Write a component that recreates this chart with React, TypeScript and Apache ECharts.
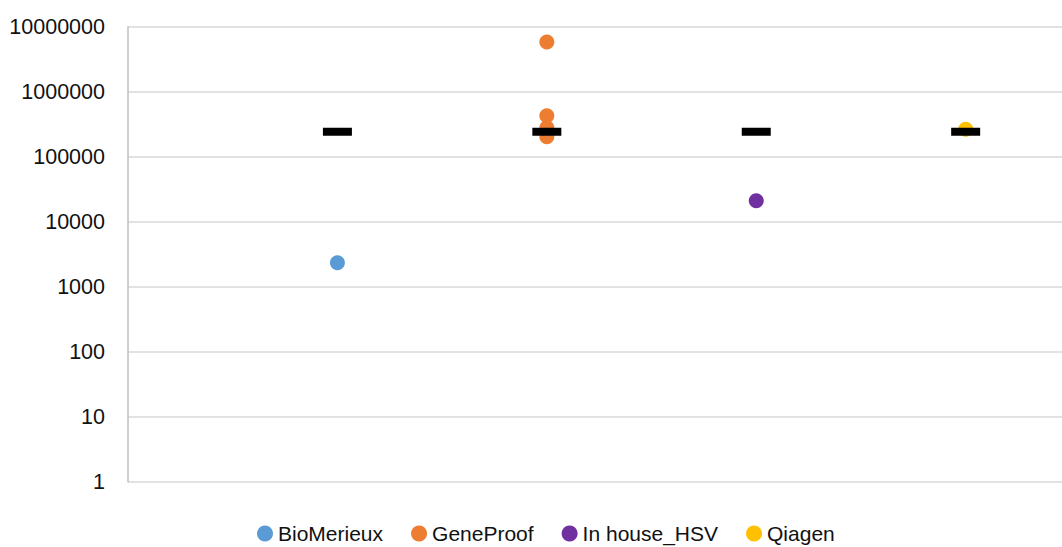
import React, { useEffect, useRef } from "react";
import * as echarts from "echarts";

const categories = ["BioMerieux", "GeneProof", "In house_HSV", "Qiagen"];
const colors = ["#5b9bd5", "#ed7d31", "#7030a0", "#ffc000"];
const bioMerieux = [2340];
const geneProof = [5800000, 425000, 280000, 203000];
const inHouse = [21000];
const qiagen = [265000];
const seriesValues = [bioMerieux, geneProof, inHouse, qiagen];
const referenceValue = 242000;
const yTicks = [1, 10, 100, 1000, 10000, 100000, 1000000, 10000000];

export default function App() {
  const ref = useRef<HTMLDivElement>(null);
  useEffect(() => {
    if (!ref.current) return;
    const chart = echarts.init(ref.current, null, { renderer: "svg" });
    const series: any[] = categories.map((name, i) => ({
      name,
      type: "scatter",
      symbol: "circle",
      symbolSize: 15,
      itemStyle: { color: colors[i], opacity: 1 },
      data: seriesValues[i].map((v) => [i + 1, v]),
      z: 2,
    }));
    series.push({
      name: "ref",
      type: "scatter",
      symbol: "rect",
      symbolSize: [29, 8],
      itemStyle: { color: "#000", opacity: 1 },
      data: categories.map((_, i) => [i + 1, referenceValue]),
      z: 3,
    });
    chart.setOption({
      animation: false,
      backgroundColor: "#fff",
      grid: { left: 128, right: 0, top: 26.7, bottom: 65.3, containLabel: false },
      xAxis: {
        type: "value",
        min: 0,
        max: 4.46,
        show: true,
        axisLine: { show: false },
        axisTick: { show: false },
        axisLabel: { show: false },
        splitLine: { show: false },
      },
      yAxis: {
        type: "log",
        logBase: 10,
        min: yTicks[0],
        max: yTicks[yTicks.length - 1],
        axisLine: { show: true, lineStyle: { color: "#bfbfbf", width: 1.5 } },
        axisTick: { show: false },
        axisLabel: {
          margin: 23,
          fontFamily: "Liberation Sans, Arial, sans-serif",
          fontSize: 21.5,
          color: "#111",
          formatter: (v: number) => String(Math.round(v)),
        },
        splitLine: { show: true, lineStyle: { color: "#d9d9d9", width: 1.5 } },
      },
      legend: {
        data: categories.map((name) => ({ name, icon: "circle" })),
        top: 518,
        left: 252,
        itemWidth: 16,
        itemHeight: 16,
        itemGap: 28,
        textStyle: {
          fontFamily: "Liberation Sans, Arial, sans-serif",
          fontSize: 21,
          color: "#111",
        },
      },
      series,
    });
    return () => chart.dispose();
  }, []);
  return (
    <div
      ref={ref}
      style={{ position: "fixed", left: 0, top: 0, width: 1062, height: 547 }}
    />
  );
}
